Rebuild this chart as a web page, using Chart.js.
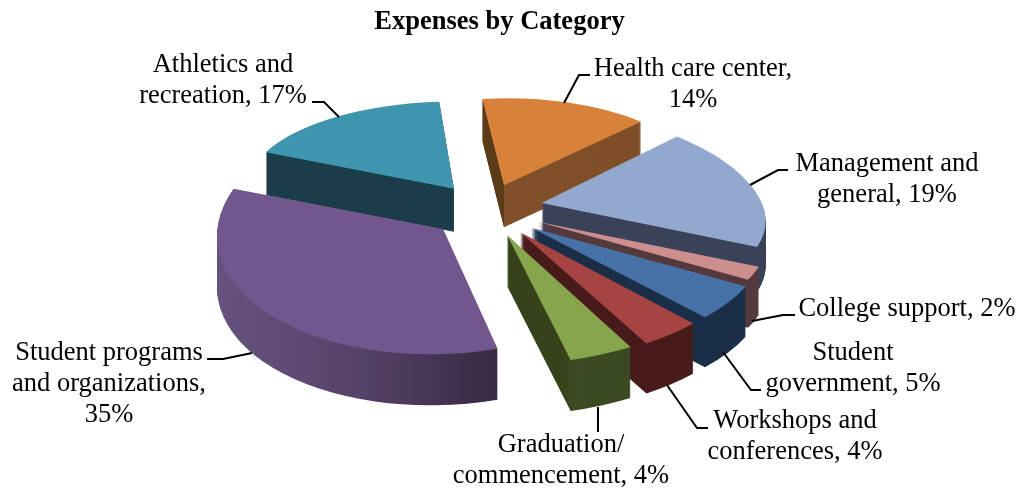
<!DOCTYPE html>
<html>
<head>
<meta charset="utf-8">
<style>
html, body { margin: 0; padding: 0; background: #fff; }
#wrap { width: 1021px; height: 489px; }
</style>
<script src="https://cdn.jsdelivr.net/npm/chart.js@4"></script>
</head>
<body>
<div id="wrap"><canvas id="chart" width="1021" height="489"></canvas></div>
<script>
const categories = ['Health care center', 'Management and general', 'College support', 'Student government',
    'Workshops and conferences', 'Graduation/commencement', 'Student programs and organizations', 'Athletics and recreation'];
const percents = [14, 19, 2, 5, 4, 4, 35, 17];
const labelLines = [
    ['Health care center,', '14%'],
    ['Management and', 'general, 19%'],
    ['College support, 2%'],
    ['Student', 'government, 5%'],
    ['Workshops and', 'conferences, 4%'],
    ['Graduation/', 'commencement, 4%'],
    ['Student programs', 'and organizations,', '35%'],
    ['Athletics and', 'recreation, 17%']
];

// slice styles
const topColors = ['#d8813b', '#92a8cf', '#cd8f8d', '#4672a8', '#a54442', '#87a54d', '#71578d', '#4095ae'];
const sideStops = [
    [[0, '#5c3b19'], [0.5, '#5c3b19'], [0.5, '#80502a'], [1, '#7d4e24']],
    [[0, '#3a4257'], [1, '#3a4257']],
    [[0, '#553a3d'], [1, '#553a3d']],
    [[0, '#1a2e48'], [1, '#1a2e48']],
    [[0, '#471b19'], [1, '#471b19']],
    [[0, '#37421b'], [0.6, '#37421b'], [0.62, '#3c4a22'], [1, '#3a4720']],
    [[0, '#67527f'], [0.3, '#574369'], [0.62, '#382842'], [1, '#382842']],
    [[0, '#1b3c49'], [1, '#1b3c49']]
];

// fake 3d: each slice gets its own flat projection, front ones are bigger
const RADIUS = 200;
const centerX = 495;
const centerY = 213;
const explode = [0.25, 0.22, 0.19, 0.185, 0.18, 0.16, 0.24, 0.34];
const sliceWidth = [197, 222, 232, 235, 240, 257, 226, 207];
const sliceHeight = [87, 99, 116, 124, 129, 130, 125, 87];
const shearX = [1, 28, 18, 22, 17, 5, 3, -7];
const shearY = [-2, 6, 0, -4, -7, -7, -9, 3];
const shiftX = [-7, 0, 2, 0, -2, -3, -11, -1];
const shiftY = [-7, -7, -1, 1, 1, 3, -5, 0];
const sliceDepth = [42, 45, 48, 50, 50, 51, 51, 43];

// label placing
const labelX = [693, 887, 907, 853, 795, 561, 109, 223];
const labelY = [76, 171, 316, 360, 428, 452, 360, 72];
const leaders = [
    [[590, 75], [579, 75], [564, 103]],
    [[788, 170], [778, 170], [750, 185]],
    [[795, 315], [783, 315], [752, 321]],
    [[761, 390], [751, 390], [723, 352]],
    [[708, 428], [697, 428], [667, 385]],
    [[598, 432], [598, 407]],
    [[207, 359], [223, 359], [252, 353]],
    [[312, 102], [324, 102], [339, 117]]
];

function sliceMatrix(arc, i) {
    const mid = (arc.startAngle + arc.endAngle) / 2;
    const ux = Math.cos(mid), uy = Math.sin(mid);
    const a = sliceWidth[i], b = shearX[i], c = shearY[i], d = sliceHeight[i];
    const e = explode[i];
    const apexX = centerX + shiftX[i] + (a * ux + b * uy) * e;
    const apexY = centerY + shiftY[i] + (c * ux + d * uy) * e;
    const r = arc.outerRadius;
    const m = [a / r, c / r, b / r, d / r];
    m.push(apexX - m[0] * arc.x - m[2] * arc.y);
    m.push(apexY - m[1] * arc.x - m[3] * arc.y);
    return m;
}

const slices3d = {
    id: 'slices3d',
    beforeDatasetDraw(chart) {
        const ctx = chart.ctx;
        const arcs = chart.getDatasetMeta(0).data;
        // back slices first
        const order = arcs.map((arc, i) => i).sort((p, q) => {
            const mp = (arcs[p].startAngle + arcs[p].endAngle) / 2;
            const mq = (arcs[q].startAngle + arcs[q].endAngle) / 2;
            return Math.sin(mp) - Math.sin(mq);
        });
        order.forEach(i => {
            const arc = arcs[i];
            const m = sliceMatrix(arc, i);
            const opts = arc.options;
            const r = arc.outerRadius;
            const grad = ctx.createLinearGradient(arc.x - r, 0, arc.x + r, 0);
            sideStops[i].forEach(s => grad.addColorStop(s[0], s[1]));
            arc.options = Object.assign({}, opts, { backgroundColor: grad });
            ctx.save();
            for (let y = sliceDepth[i]; y > 0; y--) {
                ctx.setTransform(m[0], m[1], m[2], m[3], m[4], m[5] + y);
                arc.draw(ctx);
            }
            arc.options = opts;
            ctx.setTransform(m[0], m[1], m[2], m[3], m[4], m[5]);
            arc.draw(ctx);
            ctx.restore();
        });
        return false;
    },
    afterDraw(chart) {
        const ctx = chart.ctx;
        ctx.save();
        ctx.fillStyle = '#000';
        ctx.strokeStyle = '#000';
        ctx.lineWidth = 2;
        ctx.font = '26.5px "Liberation Serif"';
        ctx.textAlign = 'center';
        labelLines.forEach((lines, i) => {
            lines.forEach((line, n) => ctx.fillText(line, labelX[i], labelY[i] + n * 31));
            ctx.beginPath();
            leaders[i].forEach((p, n) => n ? ctx.lineTo(p[0], p[1]) : ctx.moveTo(p[0], p[1]));
            ctx.stroke();
        });
        ctx.restore();
    }
};

new Chart(document.getElementById('chart'), {
    type: 'pie',
    data: {
        labels: categories,
        datasets: [{
            data: percents,
            backgroundColor: topColors,
            borderWidth: 0
        }]
    },
    options: {
        responsive: false,
        animation: false,
        rotation: -6,
        radius: RADIUS,
        layout: { padding: { right: 22 } },
        events: [],
        plugins: {
            legend: { display: false },
            tooltip: { enabled: false },
            title: {
                display: true,
                text: 'Expenses by Category',
                color: '#000',
                font: { family: '"Liberation Serif"', size: 26.5, weight: 'bold' },
                padding: { top: 6, bottom: 0 }
            }
        }
    },
    plugins: [slices3d]
});
</script>
</body>
</html>
